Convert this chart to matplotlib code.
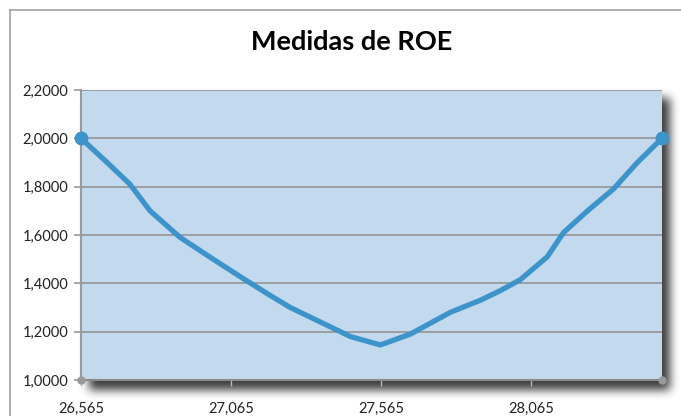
import matplotlib
matplotlib.use("Agg")
import matplotlib.pyplot as plt
from matplotlib.lines import Line2D
import numpy as np

# Data
x_vals = [26.565, 26.652, 26.728, 26.795, 26.895, 27.005, 27.105, 27.195, 27.262,
          27.462, 27.562, 27.662, 27.795, 27.895, 27.962, 28.028, 28.118, 28.172,
          28.252, 28.338, 28.418, 28.50]
roe_vals = [2.00, 1.90, 1.81, 1.70, 1.59, 1.50, 1.42, 1.35, 1.30,
            1.18, 1.145, 1.19, 1.28, 1.33, 1.37, 1.415, 1.51, 1.61,
            1.70, 1.79, 1.90, 2.00]
x_ticks = [26.565, 27.065, 27.565, 28.065]
x_tick_labels = ["26,565", "27,065", "27,565", "28,065"]
y_ticks = [1.0, 1.2, 1.4, 1.6, 1.8, 2.0, 2.2]
y_tick_labels = ["1,0000", "1,2000", "1,4000", "1,6000", "1,8000", "2,0000", "2,2000"]
title = "Medidas de ROE"

W, H = 681, 416
fig = plt.figure(figsize=(W / 100, H / 100), dpi=100)
fig.patch.set_facecolor("white")

L, R, T, B = 81, 662, 90, 380

# soft drop shadow behind the plot area
mask = np.zeros((H, W))
mask[T + 8:B + 10, L + 8:R + 8] = 1.0
def blur(a, r, axis):
    k = np.ones(2 * r + 1) / (2 * r + 1)
    return np.apply_along_axis(lambda v: np.convolve(v, k, mode="same"), axis, a)
for _ in range(3):
    mask = blur(blur(mask, 4, 0), 4, 1)
shadow = np.zeros((H, W, 4))
shadow[..., 0:3] = 0.15
shadow[..., 3] = np.clip(mask * 0.9, 0, 1)
fig.figimage(shadow, xo=0, yo=0, origin="upper", zorder=0)

# chart border (top & left)
fig.add_artist(Line2D([10 / W, 1], [1 - 10 / H, 1 - 10 / H], color="#A0A4A8", lw=1.2))
fig.add_artist(Line2D([10 / W, 10 / W], [0, 1 - 10 / H], color="#A0A4A8", lw=1.2))

ax = fig.add_axes([L / W, 1 - B / H, (R - L) / W, (B - T) / H])
ax.set_zorder(1)
ax.set_facecolor("#C3DAEE")
ax.plot(x_vals, roe_vals, color="#3D94CB", lw=3.8, solid_capstyle="round",
        solid_joinstyle="round", zorder=3, clip_on=False)
ax.plot([x_vals[0], x_vals[-1]], [roe_vals[0], roe_vals[-1]], "o", color="#3D94CB",
        ms=9, zorder=4, clip_on=False, linestyle="none")

ax.set_xlim(26.565, 28.50)
ax.set_ylim(1.0, 2.2)
ax.set_yticks(y_ticks)
ax.set_yticklabels(y_tick_labels)
ax.set_xticks(x_ticks)
ax.set_xticklabels(x_tick_labels)
ax.yaxis.grid(True, color="#9A9A9A", lw=1.3)
ax.set_axisbelow(True)

for s in ["top", "right"]:
    ax.spines[s].set_visible(False)
ax.spines["left"].set_color("#9A9A9A")
ax.spines["left"].set_linewidth(1.5)
ax.spines["bottom"].set_color("#8A8A8A")
ax.spines["bottom"].set_linewidth(1.5)
ax.tick_params(axis="y", length=5, color="#9A9A9A", width=1.2, labelsize=10.5,
               labelcolor="#222222", pad=4)
ax.tick_params(axis="x", length=4, color="#BBBBBB", width=1, labelsize=10.5,
               labelcolor="#222222", pad=12)
for lab in ax.get_xticklabels() + ax.get_yticklabels():
    lab.set_fontfamily("Lato")

# axis corner dots
ax.plot([26.565, 28.50], [1.0, 1.0], "o", color="#9A9A9A", ms=5, clip_on=False,
        zorder=5, linestyle="none")

fig.text(352 / W, 1 - 42 / H, title, ha="center", va="center", fontsize=19.5,
         fontweight="bold", fontfamily="Lato", color="black")

fig.savefig("out.png", dpi=100)
